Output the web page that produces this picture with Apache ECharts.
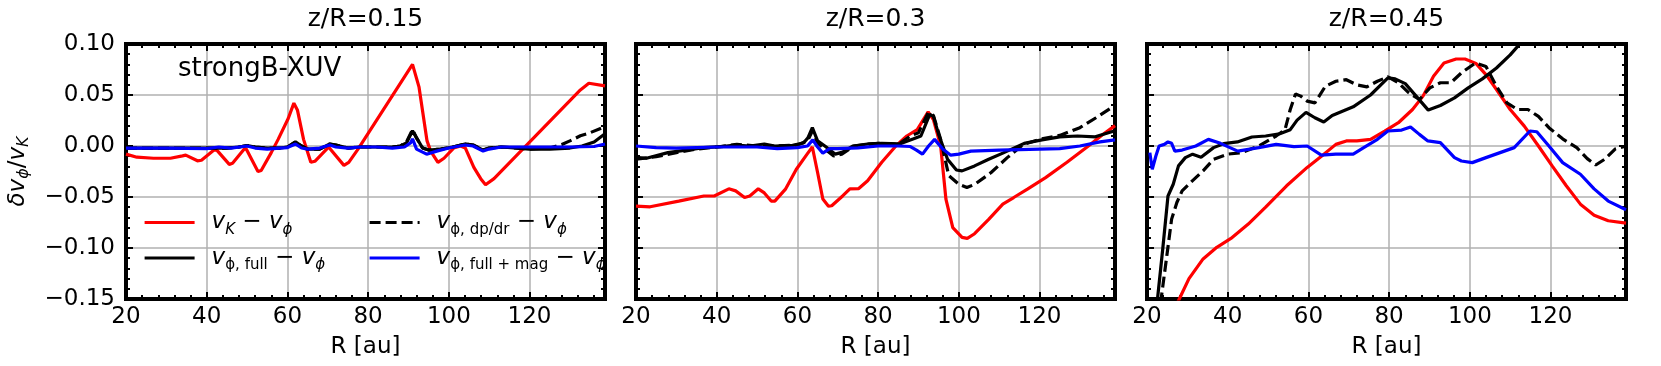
<!DOCTYPE html>
<html><head><meta charset="utf-8">
<script src="https://cdn.jsdelivr.net/npm/echarts/dist/echarts.min.js"></script>
<style>html,body{margin:0;padding:0;background:#fff}#c{width:1661px;height:366px}</style>
</head><body><div id="c"></div>
<script>
// ---------- data ----------
const xTicks = [20, 40, 60, 80, 100, 120];
const yTicks = [-0.15, -0.10, -0.05, 0, 0.05, 0.10];
const panelTitles = ['z/R=0.15', 'z/R=0.3', 'z/R=0.45'];
const runLabel = 'strongB-XUV';

// panel 1 : z/R = 0.15
const p1_vK = [[20,-0.008],[22.7,-0.011],[26.8,-0.012],[31,-0.012],[34,-0.0097],[34.8,-0.009],[37.7,-0.0145],[38.7,-0.014],[41.8,-0.004],[42.5,-0.004],[45.6,-0.018],[46.4,-0.017],[49.3,-0.003],[49.8,-0.003],[52.7,-0.025],[53.5,-0.024],[56,-0.0065],[57.7,0.0065],[60.2,0.027],[61.6,0.042],[62.5,0.035],[64,0.0065],[65.8,-0.016],[66.8,-0.015],[70.2,-0.001],[74,-0.019],[75.2,-0.016],[77.5,-0.003],[91,0.08],[92.6,0.058],[94.6,0.005],[95.5,-0.005],[97.3,-0.016],[98.8,-0.012],[101.2,-0.002],[102.9,0],[104.1,-0.002],[106.2,-0.021],[107.9,-0.032],[109.1,-0.038],[111.2,-0.032],[132.6,0.055],[134.7,0.0615],[138.7,0.059]];
const p1_full = [[20,-0.002],[30,-0.002],[40,-0.002],[45,-0.002],[48,-0.001],[50,0.0005],[52,-0.001],[55,-0.002],[58,-0.002],[60,-0.001],[62,0.004],[63.5,0.0],[65,-0.003],[68,-0.003],[70.5,0.002],[72,0.001],[75,-0.002],[78,-0.001],[82,-0.001],[86,-0.001],[88,0.0],[89.5,0.003],[91,0.015],[92,0.008],[93.5,-0.002],[95,-0.004],[98,-0.003],[101,-0.001],[104,0.002],[106,0.001],[108.5,-0.004],[110,-0.002],[113,-0.001],[117,-0.002],[120,-0.003],[125,-0.003],[130,-0.002],[133,0.0],[136,0.004],[138.7,0.012]];
const p1_dp = [[20,-0.002],[30,-0.002],[40,-0.002],[45,-0.002],[48,-0.001],[50,0.0005],[52,-0.001],[55,-0.002],[58,-0.002],[60,-0.001],[62,0.004],[63.5,0.0],[65,-0.003],[68,-0.003],[70.5,0.002],[72,0.001],[75,-0.002],[78,-0.001],[82,-0.001],[86,-0.001],[88,0.0],[89.5,0.004],[91,0.016],[92,0.008],[93.5,-0.002],[95,-0.004],[98,-0.003],[101,-0.001],[104,0.002],[106,0.001],[108.5,-0.004],[110,-0.002],[113,-0.001],[117,-0.002],[120,-0.003],[125,-0.002],[128,0.0015],[130,0.005],[132.6,0.01],[135,0.013],[138.7,0.019]];
const p1_mag = [[20,-0.002],[30,-0.002],[40,-0.0025],[43,-0.001],[46,-0.002],[50,0.0],[52,-0.002],[55,-0.003],[58,-0.002],[60,-0.0015],[62,0.002],[63.5,-0.002],[65,-0.003],[68,-0.002],[70.5,0.001],[72,-0.001],[75,-0.002],[78,-0.001],[82,-0.001],[86,-0.002],[89,-0.001],[90.5,0.003],[91,0.007],[92,-0.003],[94.5,-0.008],[97,-0.005],[100,-0.002],[104,0.001],[106,0.0],[108.5,-0.005],[110,-0.003],[113,-0.001],[120,-0.001],[130,-0.001],[136,-0.0005],[138.7,0.002]];

// panel 2 : z/R = 0.3
const p2_vK = [[20,-0.059],[23.5,-0.0596],[30.6,-0.054],[36.8,-0.049],[39.4,-0.049],[43,-0.042],[44.7,-0.044],[46.9,-0.0505],[48.2,-0.049],[50.3,-0.042],[51.8,-0.046],[53.5,-0.054],[54.4,-0.054],[57.1,-0.042],[59.7,-0.023],[62.4,-0.008],[63.7,-0.001],[65,-0.026],[66.3,-0.052],[67.7,-0.059],[68.5,-0.0586],[71.2,-0.049],[73,-0.042],[75.2,-0.0417],[77.4,-0.034],[80.9,-0.016],[84.4,0.0],[87.1,0.0098],[89.7,0.016],[92.4,0.0335],[93.7,0.026],[95.5,0.0],[96.8,-0.052],[98.5,-0.08],[100.8,-0.0896],[102.1,-0.0906],[103.9,-0.086],[107.4,-0.072],[110.9,-0.057],[113.6,-0.0505],[117.1,-0.042],[121.5,-0.031],[126.8,-0.016],[132.1,0.0],[135.6,0.011],[138.7,0.020]];
const p2_full = [[20,-0.011],[22.6,-0.012],[27.9,-0.0065],[32.4,-0.004],[36.8,-0.0016],[41.2,-0.0006],[44.7,0.001],[48.2,0.0],[51.8,0.002],[54.4,0.0],[58.8,0.0006],[61.5,0.003],[62.6,0.008],[63.7,0.018],[65,0.005],[66.8,0.0],[69.4,-0.008],[71.2,-0.006],[73.8,0.0],[77.4,0.002],[80.9,0.0026],[85.3,0.002],[88.8,0.007],[90.6,0.0098],[92.8,0.031],[93.7,0.029],[95,0.0114],[97.2,-0.013],[99.4,-0.0235],[100.8,-0.0244],[103.9,-0.0195],[107.4,-0.013],[110.9,-0.007],[116.2,0.0026],[120.6,0.006],[125,0.009],[129.4,0.0098],[133.8,0.009],[138.7,0.015]];
const p2_dp = [[20,-0.013],[25,-0.0104],[30,-0.0065],[35,-0.003],[40,-0.001],[45,0.0016],[50,0.0],[55,0.0],[60,0.001],[62.5,0.005],[63.7,0.0146],[65,0.003],[66.8,-0.003],[69,-0.0098],[71,-0.008],[74,0.0],[80,0.0026],[85,0.0016],[88,0.0098],[90,0.013],[92.4,0.0326],[93.7,0.03],[95.5,0.0065],[97.5,-0.029],[100,-0.0375],[102,-0.0407],[104,-0.0375],[108,-0.026],[112,-0.0114],[116,0.0016],[120,0.0065],[125,0.0104],[130,0.018],[134,0.0277],[138.7,0.0397]];
const p2_mag = [[20,0.0],[25,-0.0016],[30,-0.002],[40,-0.001],[50,-0.001],[55,-0.0026],[60,-0.0016],[62.5,0.0],[63.8,0.006],[65,-0.001],[66.3,-0.007],[68,-0.0026],[70,-0.0025],[75,-0.0018],[80,0.0],[85,0.0],[88,-0.0005],[89.5,-0.004],[91,-0.008],[92.5,0.0],[94,0.0065],[96,-0.003],[98,-0.009],[100,-0.008],[103,-0.005],[110,-0.004],[120,-0.003],[125,-0.0026],[130,0.0],[135,0.004],[138.7,0.006]];

// panel 3 : z/R = 0.45
const p3_vK = [[26.8,-0.16],[28,-0.15],[30.4,-0.13],[33.9,-0.1107],[37.3,-0.0993],[40.8,-0.0906],[45.1,-0.0765],[49.4,-0.06],[54.6,-0.039],[59.7,-0.021],[63.3,-0.0098],[66.8,0.0016],[69.4,0.005],[72,0.005],[75.4,0.0065],[78.9,0.0147],[82.3,0.0228],[85.8,0.0358],[88.4,0.0489],[91,0.0684],[93.6,0.0814],[96.6,0.0853],[98.8,0.0853],[101.5,0.081],[104,0.07],[106.6,0.0554],[110,0.0358],[113.5,0.0195],[117,0.0],[120.4,-0.0195],[123.9,-0.039],[127.4,-0.057],[130.8,-0.0678],[134.3,-0.0733],[138.7,-0.0756]];
const p3_full = [[22.3,-0.17],[22.6,-0.15],[23.9,-0.101],[25.2,-0.049],[26.5,-0.0375],[27.8,-0.0195],[29.5,-0.0114],[31.3,-0.008],[33.4,-0.011],[36.5,-0.0016],[39,0.0023],[42.4,0.004],[46,0.0088],[49.4,0.0098],[52.9,0.012],[55.5,0.016],[57.2,0.0254],[59.4,0.033],[61.6,0.0277],[63.8,0.0235],[65.9,0.03],[71.1,0.0384],[75.4,0.05],[79.7,0.0668],[81.5,0.0658],[84,0.0612],[86.7,0.0489],[89.7,0.0352],[92.7,0.0397],[96.2,0.0472],[99.6,0.057],[103.1,0.0658],[106.6,0.0765],[110,0.0893],[112.6,0.101],[115,0.112]];
const p3_dp = [[23.1,-0.17],[23.5,-0.15],[24.8,-0.111],[26.1,-0.0717],[27.4,-0.0554],[28.7,-0.044],[31.3,-0.034],[33.9,-0.0244],[36.5,-0.013],[39.9,-0.008],[43.4,-0.0065],[47.7,0.0],[52,0.0098],[54.2,0.016],[55.5,0.0358],[56.8,0.051],[58.1,0.0489],[59.7,0.044],[61.6,0.0423],[64.2,0.0586],[66.8,0.0635],[69.4,0.065],[72,0.06],[74.5,0.058],[77.1,0.0635],[79.7,0.0678],[82.3,0.062],[84.9,0.052],[87.5,0.0456],[90.1,0.057],[92.7,0.062],[95.3,0.062],[97.9,0.0717],[101.4,0.0814],[104,0.078],[106.6,0.0586],[109.2,0.0423],[111.8,0.0358],[114.4,0.0358],[117,0.029],[119.6,0.018],[123,0.007],[126.5,-0.0016],[129.1,-0.0124],[131.2,-0.0186],[133.4,-0.013],[136,-0.003],[138.7,0.0]];
const p3_mag = [[20.7,-0.0065],[21.3,-0.0228],[22.2,-0.0098],[23,0.0],[24.3,0.0016],[25.2,0.004],[26.1,0.0026],[26.9,-0.005],[28.7,-0.004],[32.1,0.0],[35.2,0.0065],[38.2,0.0026],[42.5,-0.005],[47.7,-0.0016],[52,0.0016],[56.4,-0.0006],[59.7,0.0],[63.2,-0.009],[66.8,-0.008],[71.1,-0.008],[73.7,-0.0016],[77.1,0.0065],[79.7,0.0147],[83.1,0.0156],[85.3,0.0186],[87.5,0.0114],[89.6,0.005],[92.7,0.0033],[96.2,-0.0114],[97.9,-0.0147],[100.6,-0.0163],[104,-0.0114],[107.5,-0.0065],[111,-0.0016],[114.9,0.0147],[116.6,0.014],[119.6,0.0],[123,-0.0163],[127.4,-0.0277],[130.8,-0.042],[134.3,-0.054],[138.7,-0.0625]];

const panels = [
  {vK: p1_vK, full: p1_full, dp: p1_dp, mag: p1_mag},
  {vK: p2_vK, full: p2_full, dp: p2_dp, mag: p2_mag},
  {vK: p3_vK, full: p3_full, dp: p3_dp, mag: p3_mag}
];

// ---------- layout / style ----------
const FONT = 'DejaVu Sans';
const X_MIN = 20, X_MAX = 138.7, Y_MIN = -0.15, Y_MAX = 0.10;
const gridLeft = [126, 636, 1147];
const gridTop = 44, gridW = 479, gridH = 255;

const frameLine = {color: '#000', width: 4, cap: 'square'};
const majorTick = {show: true, inside: true, length: 7, lineStyle: {color: '#000', width: 2}};
const minorTick = {show: true, splitNumber: 5, length: 4, lineStyle: {color: '#000', width: 2}};
const gridLine = {show: true, lineStyle: {color: '#b0b0b0', width: 1.5}};

function fmtX(v) {
  const r = Math.round(v);
  return (Math.abs(v - r) < 1e-6 && xTicks.indexOf(r) >= 0) ? String(r) : '';
}
function fmtY(v) {
  if (Math.abs(v) < 1e-9) return '0.00';
  const ok = yTicks.some(t => Math.abs(t - v) < 1e-9);
  if (!ok) return '';
  return (v < 0 ? '\u2212' : '') + Math.abs(v).toFixed(2);
}

const xAxes = [], yAxes = [], grids = [], titles = [], series = [];
for (let i = 0; i < 3; i++) {
  grids.push({left: gridLeft[i], top: gridTop, width: gridW, height: gridH, containLabel: false, outerBoundsMode: 'none', show: false});
  titles.push({text: panelTitles[i], left: gridLeft[i] + gridW / 2, top: 7, textAlign: 'center', padding: 0,
    textStyle: {fontSize: 25, fontWeight: 'normal', color: '#000', fontFamily: FONT}});
}
for (let i = 0; i < 3; i++) {
  xAxes.push({type: 'value', gridIndex: i, position: 'bottom', min: X_MIN, max: X_MAX, interval: 20,
    axisLine: {show: true, onZero: false, lineStyle: frameLine}, axisTick: majorTick, minorTick: minorTick,
    splitLine: gridLine, minorSplitLine: {show: false},
    axisLabel: {show: true, margin: 7, fontSize: 23, color: '#000', fontFamily: FONT, formatter: fmtX, hideOverlap: false},
    name: 'R [au]', nameLocation: 'middle', nameGap: 37, nameMoveOverlap: false,
    nameTextStyle: {fontSize: 23, color: '#000', fontFamily: FONT}});
}
for (let i = 0; i < 3; i++) {
  xAxes.push({type: 'value', gridIndex: i, position: 'top', min: X_MIN, max: X_MAX, interval: 20,
    axisLine: {show: true, onZero: false, lineStyle: frameLine}, axisTick: majorTick, minorTick: minorTick,
    splitLine: {show: false}, axisLabel: {show: false}});
}
for (let i = 0; i < 3; i++) {
  const ax = {type: 'value', gridIndex: i, position: 'left', min: Y_MIN, max: Y_MAX, interval: 0.05,
    axisLine: {show: true, onZero: false, lineStyle: frameLine}, axisTick: majorTick, minorTick: minorTick,
    splitLine: gridLine, minorSplitLine: {show: false},
    axisLabel: {show: i === 0, margin: 11, fontSize: 23, color: '#000', fontFamily: FONT, formatter: fmtY, hideOverlap: false}};
  if (i === 0) {
    ax.name = '{i|\u03b4v}{s|\u03d5}{n|/}{i|v}{s|K}';
    ax.nameLocation = 'middle';
    ax.nameRotate = 90;
    ax.nameGap = 94;
    ax.nameMoveOverlap = false;
    ax.nameTextStyle = {fontSize: 23, color: '#000', fontFamily: FONT, rich: {
      i: {fontSize: 23, fontStyle: 'italic', fontFamily: FONT, color: '#000', lineHeight: 28},
      n: {fontSize: 23, fontFamily: FONT, color: '#000', lineHeight: 28},
      s: {fontSize: 16, fontStyle: 'italic', fontFamily: FONT, color: '#000', lineHeight: 14, verticalAlign: 'bottom'}
    }};
  }
  yAxes.push(ax);
}
for (let i = 0; i < 3; i++) {
  yAxes.push({type: 'value', gridIndex: i, position: 'right', min: Y_MIN, max: Y_MAX, interval: 0.05,
    axisLine: {show: true, onZero: false, lineStyle: frameLine}, axisTick: majorTick, minorTick: minorTick,
    splitLine: {show: false}, axisLabel: {show: false}});
}

const styles = {
  vK:   {color: '#ff0000', type: 'solid'},
  full: {color: '#000000', type: 'solid'},
  dp:   {color: '#000000', type: [11, 5]},
  mag:  {color: '#0000ff', type: 'solid'}
};
const order = ['vK', 'full', 'dp', 'mag'];
for (let i = 0; i < 3; i++) {
  order.forEach((k, j) => {
    series.push({type: 'line', name: k, xAxisIndex: i, yAxisIndex: i, data: panels[i][k],
      symbol: 'none', showSymbol: false, smooth: false, clip: true, z: 2 + j,
      color: styles[k].color,
      lineStyle: {color: styles[k].color, width: 3.2, type: styles[k].type},
      emphasis: {disabled: true}, silent: true});
  });
}

titles.push({text: runLabel, left: 178, top: 56, padding: 0,
  textStyle: {fontSize: 26, fontWeight: 'normal', color: '#000', fontFamily: FONT}});

const legendText = {
  vK:   '{v|v}{si|K}{n| \u2212 }{v|v}{si|\u03d5}',
  dp:   '{v|v}{s|\u03d5, dp/dr}{n| \u2212 }{v|v}{si|\u03d5}',
  full: '{v|v}{s|\u03d5, full}{n| \u2212 }{v|v}{si|\u03d5}',
  mag:  '{v|v}{s|\u03d5, full + mag}{n| \u2212 }{v|v}{si|\u03d5}'
};
const legendRich = {
  v: {fontSize: 23, fontStyle: 'italic', fontFamily: FONT, color: '#000', lineHeight: 30},
  n: {fontSize: 23, fontFamily: FONT, color: '#000', lineHeight: 30},
  s: {fontSize: 15, fontFamily: FONT, color: '#000', lineHeight: 14, verticalAlign: 'bottom'},
  si: {fontSize: 15, fontStyle: 'italic', fontFamily: FONT, color: '#000', lineHeight: 14, verticalAlign: 'bottom'}
};
function makeLegend(names, left) {
  return {
    data: names, left: left, top: 211, orient: 'vertical', padding: 0,
    itemGap: 9, itemWidth: 50, itemHeight: 14, selectedMode: false,
    itemStyle: {opacity: 0},
    lineStyle: {width: 3.2},
    formatter: name => legendText[name],
    textStyle: {padding: [0, 0, 0, 12], color: '#000', fontFamily: FONT, fontSize: 23, rich: legendRich}
  };
}

const option = {
  animation: false,
  backgroundColor: '#fff',
  title: titles,
  grid: grids,
  xAxis: xAxes,
  yAxis: yAxes,
  legend: [makeLegend(['vK', 'full'], 143), makeLegend(['dp', 'mag'], 368)],
  series: series
};

const chart = echarts.init(document.getElementById('c'), null, {renderer: 'canvas'});
chart.setOption(option);
</script>
</body></html>
